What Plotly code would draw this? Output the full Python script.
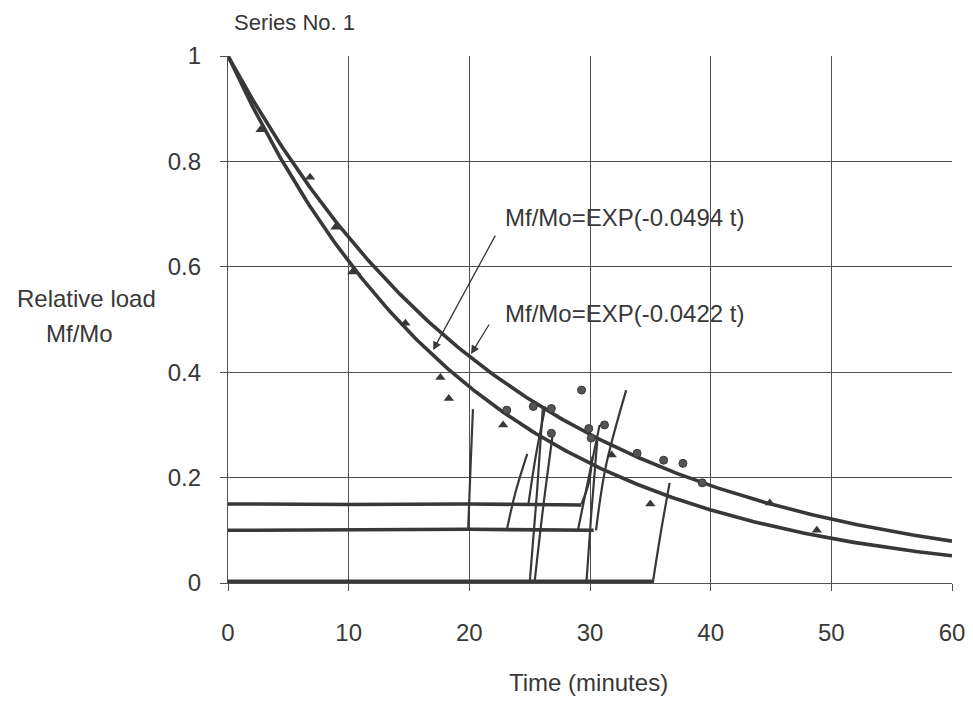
import numpy as np
import plotly.graph_objects as go

# ---- data ----
k_upper = 0.0422   # Mf/Mo = EXP(-0.0422 t)
k_lower = 0.0494   # Mf/Mo = EXP(-0.0494 t)
t_fit = np.linspace(0, 60, 241)

tri_t = [2.7, 6.8, 8.9, 10.3, 14.7, 17.6, 18.3, 22.8, 31.8, 35.0, 44.9, 48.8]
tri_y = [0.86, 0.77, 0.675, 0.59, 0.493, 0.39, 0.35, 0.30, 0.243, 0.15, 0.152, 0.10]

circ_t = [23.1, 25.3, 26.8, 26.8, 29.3, 29.9, 30.1, 31.2, 33.9, 36.1, 37.7, 39.3]
circ_y = [0.328, 0.335, 0.331, 0.284, 0.366, 0.293, 0.275, 0.30, 0.246, 0.233, 0.227, 0.19]

level_t = [[0, 10, 20, 29.3], [0, 10, 20, 30.3], [0, 10, 20, 35.2]]
level_y = [[0.150, 0.149, 0.150, 0.148], [0.100, 0.101, 0.102, 0.100], [0.003, 0.003, 0.003, 0.003]]

rise_t = [
    [19.9, 20.1, 20.3],
    [23.1, 23.8, 24.8],
    [24.9, 25.5, 26.3],
    [25.0, 25.6, 26.1],
    [25.4, 26.1, 26.9],
    [29.0, 29.8, 30.8],
    [29.3, 29.9, 30.2],
    [29.7, 30.1, 30.6],
    [30.5, 31.3, 33.0],
    [35.2, 35.9, 36.6],
]
rise_y = [
    [0.10, 0.22, 0.33],
    [0.10, 0.17, 0.245],
    [0.15, 0.24, 0.335],
    [0.0, 0.17, 0.335],
    [0.0, 0.14, 0.28],
    [0.10, 0.19, 0.30],
    [0.15, 0.19, 0.24],
    [0.0, 0.13, 0.27],
    [0.10, 0.22, 0.366],
    [0.0, 0.10, 0.19],
]

x_ticks = [0, 10, 20, 30, 40, 50, 60]
y_ticks = [0, 0.2, 0.4, 0.6, 0.8, 1]
y_tick_text = ["0", "0.2", "0.4", "0.6", "0.8", "1"]

INK = "#383838"
GRID = "#505050"
FONT = "Liberation Sans, Arial, sans-serif"
FS = 24

fig = go.Figure()

for lt, ly in zip(level_t, level_y):
    fig.add_trace(go.Scatter(x=lt, y=ly, mode="lines",
                             line=dict(color=INK, width=3.6),
                             showlegend=False, hoverinfo="skip", cliponaxis=False))
for rt, ry in zip(rise_t, rise_y):
    fig.add_trace(go.Scatter(x=rt, y=ry, mode="lines",
                             line=dict(color=INK, width=2.2, shape="spline"),
                             showlegend=False, hoverinfo="skip"))

fig.add_trace(go.Scatter(x=t_fit, y=np.exp(-k_upper * t_fit), mode="lines",
                         line=dict(color=INK, width=3.6), showlegend=False, cliponaxis=False))
fig.add_trace(go.Scatter(x=t_fit, y=np.exp(-k_lower * t_fit), mode="lines",
                         line=dict(color=INK, width=3.6), showlegend=False, cliponaxis=False))

fig.add_trace(go.Scatter(x=tri_t, y=tri_y, mode="markers",
                         marker=dict(symbol="triangle-up", size=9, color=INK),
                         showlegend=False))
fig.add_trace(go.Scatter(x=circ_t, y=circ_y, mode="markers",
                         marker=dict(symbol="circle", size=8, color="#555555",
                                     line=dict(color=INK, width=1)),
                         showlegend=False))

# page-pixel geometry (browser body has an 8px margin)
OFF = 8
L, R, T, B = 220, 21, 48, 118
W, H = 965, 693
pw, ph = W - L - R, H - T - B


def px2paper(px, py):
    return (px - OFF - L) / pw, (H - B - (py - OFF)) / ph


def page_text(text, px, py, xanchor="center", size=FS):
    x, y = px2paper(px, py)
    return dict(x=x, y=y, xref="paper", yref="paper", text=text, showarrow=False,
                xanchor=xanchor, yanchor="middle",
                font=dict(size=size, color=INK, family=FONT))


ann = [
    dict(x=22.8, y=0.694, xref="x", yref="y", text="Mf/Mo=EXP(-0.0494 t)",
         showarrow=False, xanchor="left", yanchor="middle",
         font=dict(size=FS, color=INK, family=FONT)),
    dict(x=22.8, y=0.512, xref="x", yref="y", text="Mf/Mo=EXP(-0.0422 t)",
         showarrow=False, xanchor="left", yanchor="middle",
         font=dict(size=FS, color=INK, family=FONT)),
    dict(x=17.0, y=0.442, xref="x", yref="y", text="", showarrow=True,
         ax=63, ay=-116, arrowhead=2, arrowsize=1.3, arrowwidth=1.3, arrowcolor=INK),
    dict(x=20.14, y=0.4345, xref="x", yref="y", text="", showarrow=True,
         ax=19, ay=-31, arrowhead=2, arrowsize=1.3, arrowwidth=1.3, arrowcolor=INK),
    page_text("Series No. 1", 232, 22, xanchor="left", size=22),
    page_text("Relative load", 86, 298),
    page_text("Mf/Mo", 79, 333),
    page_text("Time (minutes)", 588, 682),
]

fig.update_layout(
    width=W, height=H,
    margin=dict(l=L, r=R, t=T, b=B, pad=0, autoexpand=False),
    plot_bgcolor="white", paper_bgcolor="white",
    font=dict(family=FONT, size=FS, color=INK),
    annotations=ann,
    showlegend=False,
)
fig.update_xaxes(range=[0, 60], tickvals=x_ticks, showgrid=True, gridcolor=GRID,
                 gridwidth=1.2, zeroline=False, showline=True, linecolor=GRID, linewidth=1.2,
                 ticks="outside", ticklen=7, tickcolor=GRID, ticklabelstandoff=21,
                 tickfont=dict(size=FS, color=INK))
fig.update_yaxes(range=[0, 1], tickvals=y_ticks, ticktext=y_tick_text, showgrid=True,
                 gridcolor=GRID, gridwidth=1.2, zeroline=False, showline=True,
                 linecolor=GRID, linewidth=1.2, ticks="outside", ticklen=7,
                 tickcolor=GRID, ticklabelstandoff=14,
                 tickfont=dict(size=FS, color=INK))

fig.write_html("out.html")
